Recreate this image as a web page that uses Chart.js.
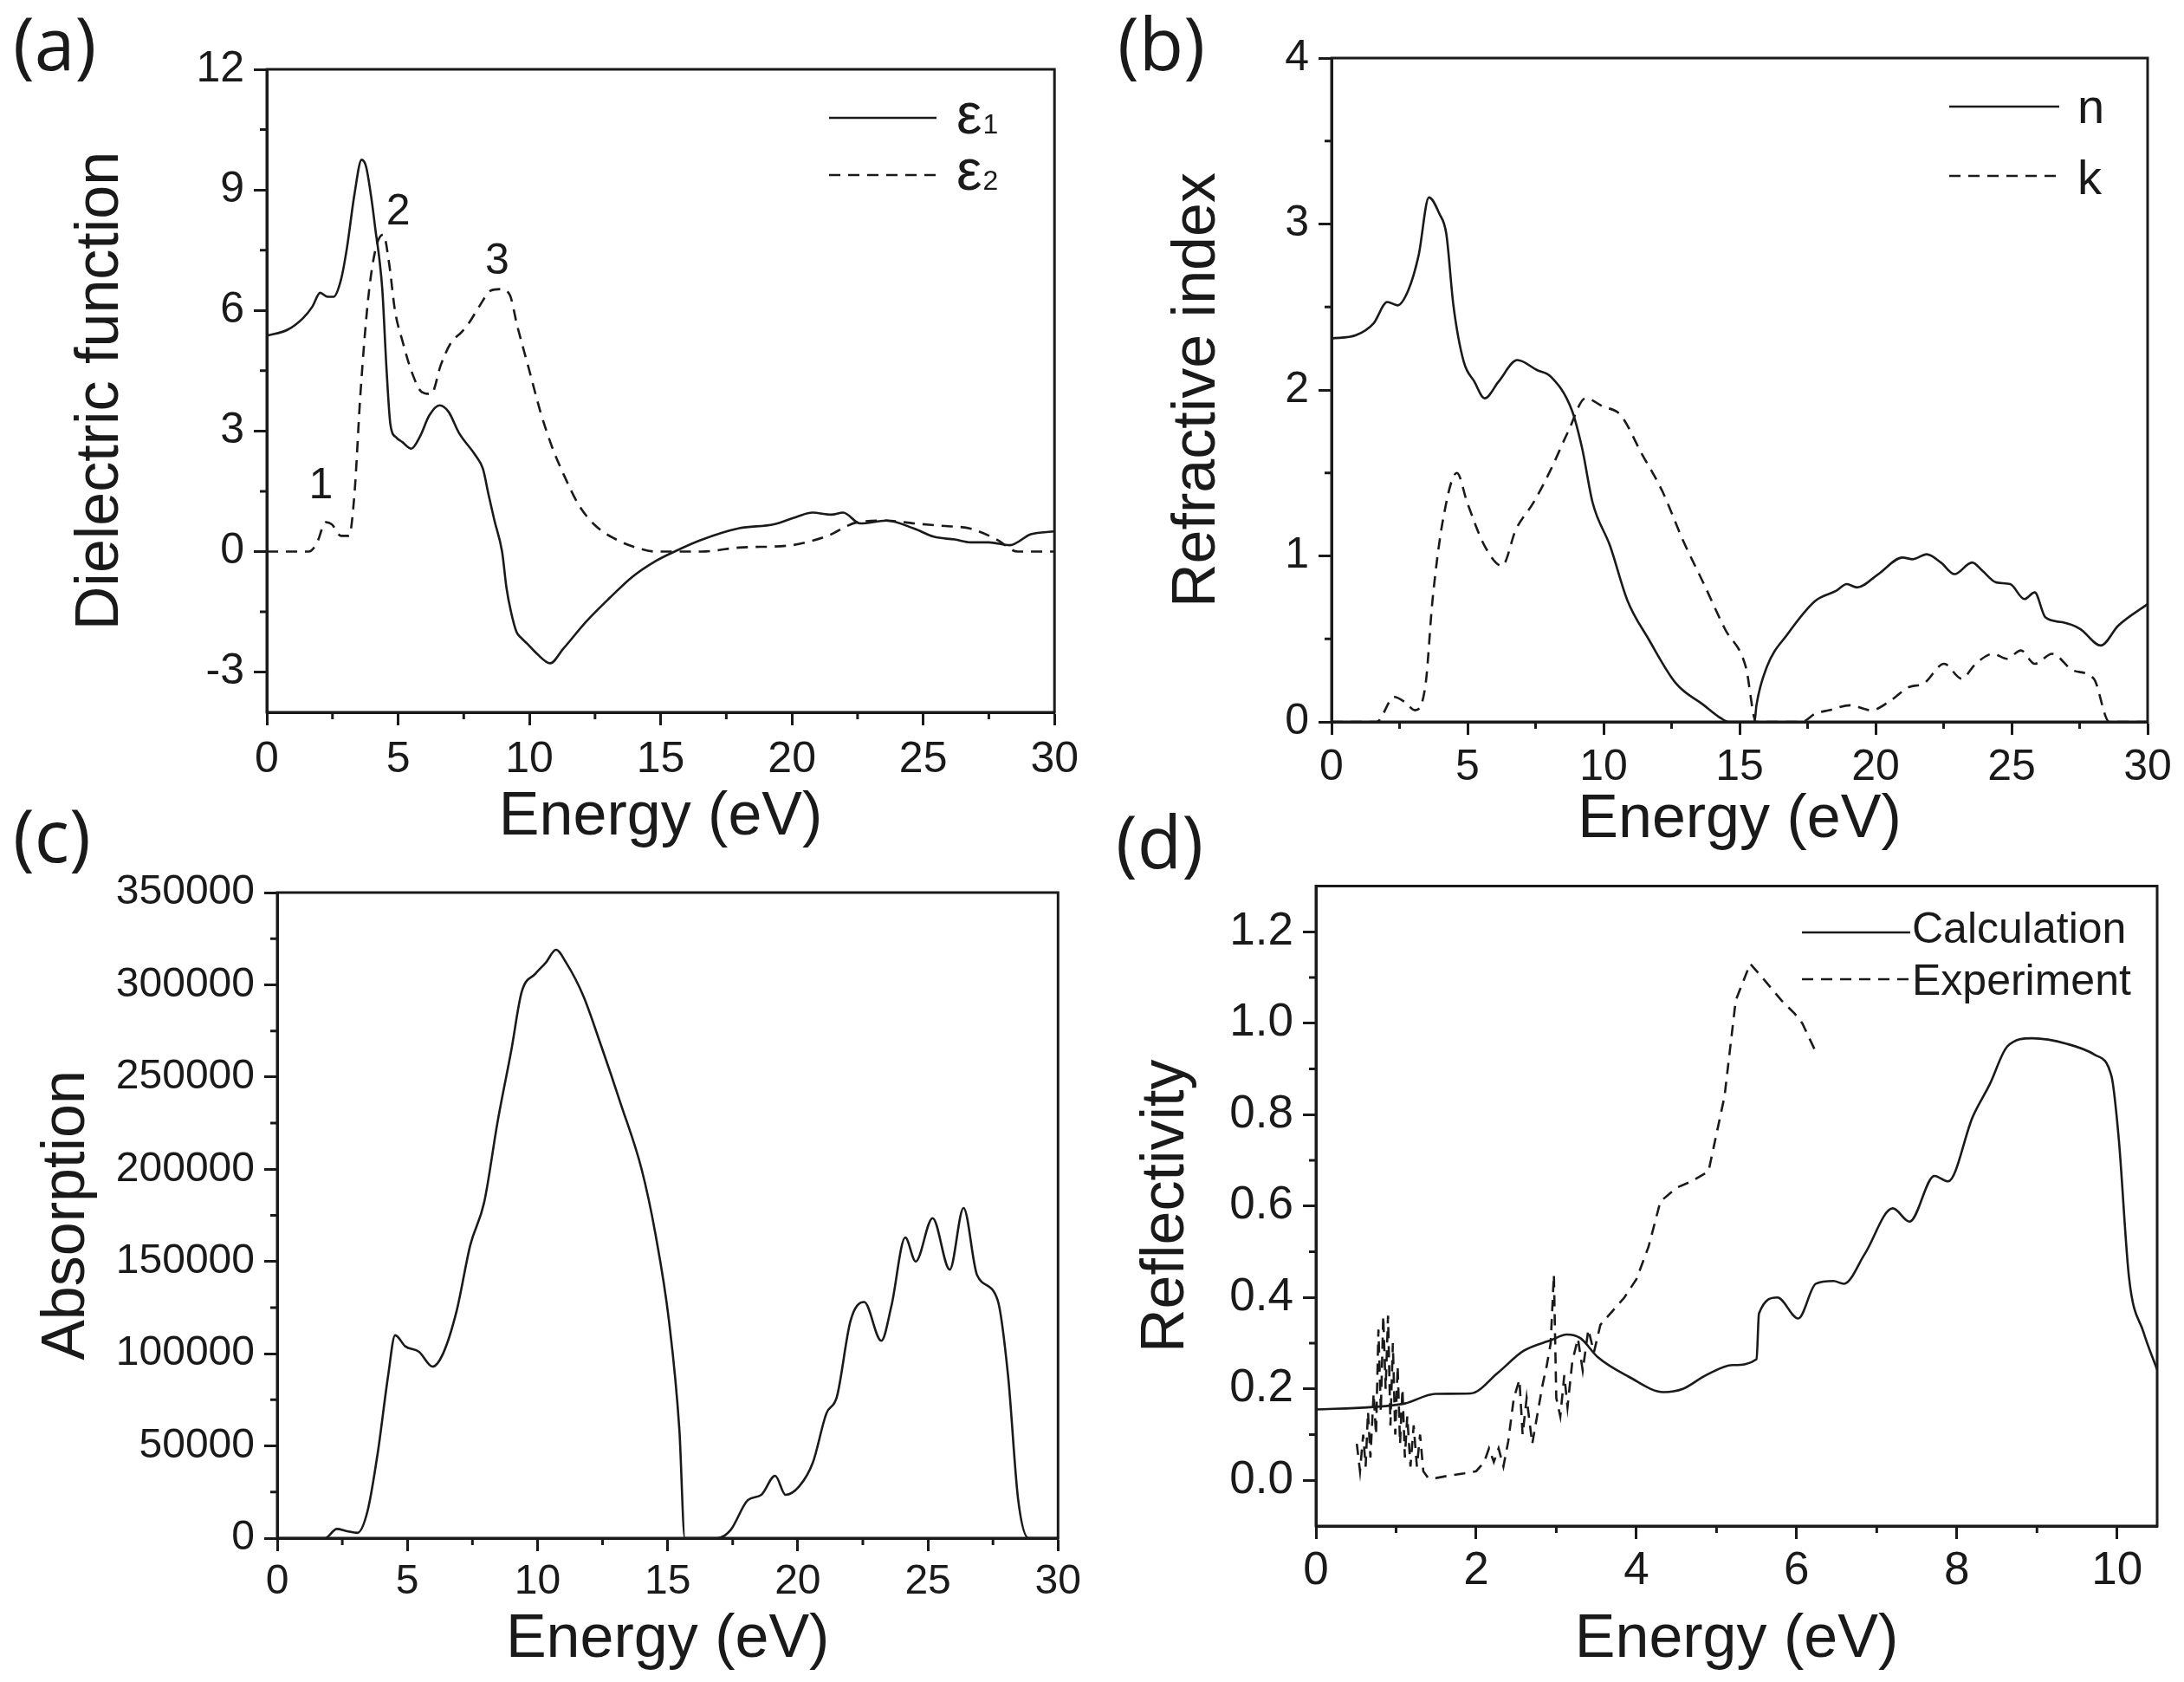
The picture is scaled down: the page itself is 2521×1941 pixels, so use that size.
<!DOCTYPE html>
<html>
<head>
<meta charset="utf-8">
<script src="https://cdn.jsdelivr.net/npm/chart.js@4.4.1/dist/chart.umd.min.js"></script>
<style>
html,body{margin:0;padding:0;background:#ffffff;}
#wrap{position:relative;width:2521px;height:1941px;overflow:hidden;background:#ffffff;}
#wrap canvas{position:absolute;}
.lab{position:absolute;font-family:"Open Sans";font-size:84px;line-height:1;color:#1a1a1a;white-space:nowrap;}
</style>
</head>
<body>
<div id="wrap">
  <canvas id="ca"></canvas>
  <canvas id="cb"></canvas>
  <canvas id="cc"></canvas>
  <canvas id="cd"></canvas>
  <div class="lab" style="left:15px;top:7px">(a)</div>
  <div class="lab" style="left:1290px;top:7px">(b)</div>
  <div class="lab" style="left:15px;top:921px">(c)</div>
  <div class="lab" style="left:1288px;top:928px">(d)</div>
</div>
<script>
// ---------- DATA ----------
// (a) dielectric function
const ENERGY_EPS1 = [0, 0.79, 1.38, 1.74, 2.03, 2.32, 2.54, 2.83, 3.05, 3.34, 3.61, 3.78, 4.0, 4.15, 4.29, 4.4, 4.56, 4.71, 4.93, 5.17, 5.5, 5.83, 6.19, 6.58, 6.92, 7.33, 7.93, 8.23, 8.45, 8.67, 8.96, 9.13, 9.3, 9.51, 9.69, 9.93, 10.3, 10.79, 11.29, 12.17, 13.05, 13.92, 14.8, 15.53, 16.55, 18.0, 19.32, 20.2, 20.78, 21.5, 21.95, 22.6, 23.6, 24.66, 25.4, 26.2, 26.8, 27.5, 28.3, 29.1, 30];
const EPS1 = [5.37, 5.52, 5.81, 6.1, 6.44, 6.34, 6.34, 6.78, 7.55, 8.9, 9.75, 9.58, 8.71, 7.94, 7.26, 6.51, 4.53, 3.15, 2.84, 2.72, 2.56, 2.86, 3.39, 3.64, 3.48, 2.94, 2.41, 2.06, 1.4, 0.77, 0, -0.91, -1.5, -2.0, -2.15, -2.3, -2.55, -2.78, -2.42, -1.74, -1.16, -0.63, -0.24, 0, 0.29, 0.58, 0.68, 0.87, 0.97, 0.92, 0.97, 0.7, 0.77, 0.57, 0.37, 0.3, 0.23, 0.23, 0.16, 0.43, 0.5];
const ENERGY_EPS2 = [0, 1.6, 1.89, 2.25, 2.47, 2.83, 3.13, 3.34, 3.56, 3.86, 4.15, 4.44, 4.66, 4.88, 5.17, 5.53, 5.9, 6.26, 6.63, 7.0, 7.43, 7.72, 8.09, 8.52, 8.89, 9.25, 9.54, 9.98, 10.42, 10.86, 11.29, 11.88, 12.46, 13.19, 14.07, 14.8, 16.55, 18.0, 19.9, 20.6, 21.36, 22.5, 23.6, 24.66, 25.7, 26.8, 27.8, 28.6, 30];
const EPS2 = [0, 0, 0.19, 0.73, 0.68, 0.39, 0.39, 1.45, 3.87, 6.29, 7.55, 7.89, 7.16, 6.0, 5.23, 4.45, 3.97, 3.92, 4.65, 5.18, 5.47, 5.71, 6.1, 6.49, 6.53, 6.39, 5.61, 4.55, 3.48, 2.61, 1.94, 1.16, 0.68, 0.34, 0.1, 0, 0, 0.1, 0.15, 0.24, 0.39, 0.73, 0.77, 0.7, 0.64, 0.57, 0.3, 0, 0];
const PEAK_LABELS = ['1', '2', '3'];
const PEAK_ENERGY = [2.06, 5.0, 8.77];
const PEAK_VALUE = [1.66, 8.49, 7.26];

// (b) refractive index
const ENERGY_N = [0, 0.9, 1.54, 2.05, 2.43, 2.82, 3.2, 3.58, 3.97, 4.22, 4.48, 4.86, 5.25, 5.63, 6.14, 6.83, 7.55, 8.06, 8.83, 9.21, 9.6, 10.24, 10.88, 11.65, 12.67, 13.69, 14.33, 14.6, 15.55, 15.62, 16.0, 16.77, 17.79, 18.56, 18.94, 19.32, 20.1, 20.99, 21.37, 21.88, 22.4, 22.9, 23.55, 23.93, 24.44, 24.95, 25.47, 25.85, 26.24, 26.87, 27.52, 28.28, 28.92, 30];
const N_VAL = [2.31, 2.33, 2.40, 2.53, 2.51, 2.60, 2.81, 3.16, 3.06, 2.94, 2.51, 2.17, 2.05, 1.95, 2.05, 2.18, 2.12, 2.08, 1.88, 1.65, 1.32, 1.06, 0.73, 0.50, 0.23, 0.10, 0.02, 0, 0, 0.1, 0.33, 0.53, 0.73, 0.79, 0.83, 0.81, 0.89, 0.99, 0.98, 1.01, 0.96, 0.89, 0.96, 0.91, 0.84, 0.83, 0.74, 0.78, 0.63, 0.60, 0.56, 0.46, 0.58, 0.71];
const ENERGY_K = [0, 1.66, 2.3, 2.69, 3.07, 3.46, 3.71, 4.1, 4.61, 4.99, 5.63, 6.27, 6.78, 7.42, 8.06, 8.7, 9.34, 9.98, 10.62, 11.39, 12.16, 12.93, 13.69, 14.46, 15.23, 15.61, 17.28, 17.79, 18.3, 19.07, 19.84, 20.48, 21.24, 21.76, 22.52, 23.16, 23.68, 24.32, 24.83, 25.34, 25.85, 26.49, 27.26, 28.02, 28.59, 30];
const K_VAL = [0, 0, 0.15, 0.12, 0.07, 0.23, 0.73, 1.22, 1.50, 1.32, 1.06, 0.94, 1.16, 1.32, 1.52, 1.75, 1.95, 1.90, 1.85, 1.62, 1.39, 1.09, 0.83, 0.56, 0.33, 0, 0, 0.05, 0.07, 0.10, 0.07, 0.12, 0.21, 0.23, 0.35, 0.26, 0.35, 0.41, 0.38, 0.43, 0.35, 0.41, 0.31, 0.26, 0, 0];

// (c) absorption
const ENERGY_ABS = [0, 1.84, 2.29, 2.68, 3.08, 3.47, 3.87, 4.26, 4.53, 4.92, 5.45, 5.97, 6.37, 6.89, 7.42, 7.95, 8.47, 9.0, 9.39, 9.92, 10.32, 10.71, 11.1, 11.76, 12.42, 13.21, 14.0, 14.53, 15.05, 15.45, 15.66, 16.9, 17.42, 18.08, 18.6, 19.13, 19.53, 20.05, 20.58, 21.1, 21.5, 22.03, 22.55, 23.21, 23.6, 24.13, 24.53, 25.18, 25.84, 26.37, 26.89, 27.68, 28.08, 28.47, 28.87, 30];
const ABSORPTION = [0, 0, 5000, 3800, 2900, 14700, 47000, 88000, 110000, 104000, 101000, 93000, 100000, 123000, 159000, 182000, 226000, 265000, 296000, 306000, 312000, 319000, 312000, 294000, 268000, 235000, 200000, 165000, 118000, 59000, 0, 0, 4400, 20600, 23500, 33800, 23500, 28000, 41000, 67600, 76500, 118000, 128000, 107000, 126000, 163000, 150000, 173500, 145600, 179000, 142600, 129000, 88000, 20600, 0, 0];

// (d) reflectivity
const ENERGY_CALC = [0, 0.68, 1.11, 1.49, 1.93, 2.27, 2.59, 2.94, 3.13, 3.3, 3.52, 3.9, 4.34, 4.58, 4.87, 5.2, 5.5, 5.53, 5.76, 6.02, 6.24, 6.46, 6.59, 6.85, 7.2, 7.41, 7.72, 7.89, 8.2, 8.41, 8.63, 8.94, 9.37, 9.72, 9.93, 10.02, 10.15, 10.33, 10.5];
const REFL_CALC = [0.155, 0.16, 0.168, 0.189, 0.19, 0.235, 0.283, 0.307, 0.319, 0.311, 0.269, 0.227, 0.193, 0.2, 0.23, 0.252, 0.265, 0.365, 0.40, 0.354, 0.43, 0.436, 0.43, 0.495, 0.595, 0.566, 0.666, 0.654, 0.796, 0.866, 0.949, 0.967, 0.955, 0.931, 0.884, 0.749, 0.442, 0.324, 0.242];
const ENERGY_EXP = [0.51, 0.55, 0.59, 0.62, 0.65, 0.68, 0.72, 0.75, 0.78, 0.81, 0.84, 0.87, 0.90, 0.93, 0.96, 0.99, 1.02, 1.05, 1.08, 1.11, 1.14, 1.18, 1.22, 1.26, 1.30, 1.34, 1.40, 1.5, 1.65, 1.85, 2.0, 2.1, 2.16, 2.22, 2.28, 2.34, 2.4, 2.47, 2.54, 2.58, 2.63, 2.7, 2.76, 2.83, 2.88, 2.93, 2.97, 3.0, 3.05, 3.1, 3.14, 3.2, 3.27, 3.33, 3.4, 3.47, 3.55, 3.7, 3.85, 4.0, 4.15, 4.3, 4.5, 4.7, 4.9, 5.1, 5.24, 5.42, 5.59, 5.81, 5.98, 6.07, 6.24];
const REFL_EXP = [0.08, 0.02, 0.10, 0.03, 0.15, 0.05, 0.19, 0.10, 0.33, 0.15, 0.36, 0.20, 0.36, 0.12, 0.30, 0.10, 0.25, 0.08, 0.20, 0.05, 0.14, 0.03, 0.12, 0.03, 0.10, 0.02, 0.005, 0.005, 0.01, 0.015, 0.02, 0.04, 0.07, 0.04, 0.07, 0.03, 0.085, 0.18, 0.22, 0.10, 0.18, 0.08, 0.14, 0.21, 0.25, 0.30, 0.45, 0.18, 0.14, 0.23, 0.16, 0.26, 0.31, 0.24, 0.33, 0.28, 0.34, 0.37, 0.40, 0.44, 0.51, 0.61, 0.64, 0.655, 0.676, 0.84, 1.05, 1.13, 1.096, 1.05, 1.02, 1.0, 0.937];

// ticks
const X_TICKS_30 = [0, 5, 10, 15, 20, 25, 30];
const X_MINOR_30 = [2.5, 7.5, 12.5, 17.5, 22.5, 27.5];
const Y_TICKS_A = [-3, 0, 3, 6, 9, 12];
const Y_MINOR_A = [-1.5, 1.5, 4.5, 7.5, 10.5];
const Y_TICKS_B = [0, 1, 2, 3, 4];
const Y_MINOR_B = [0.5, 1.5, 2.5, 3.5];
const Y_TICKS_C = [0, 50000, 100000, 150000, 200000, 250000, 300000, 350000];
const Y_MINOR_C = [25000, 75000, 125000, 175000, 225000, 275000, 325000];
const X_TICKS_D = [0, 2, 4, 6, 8, 10];
const X_MINOR_D = [1, 3, 5, 7, 9];
const Y_TICKS_D = [0, 0.2, 0.4, 0.6, 0.8, 1.0, 1.2];
const Y_MINOR_D = [0.1, 0.3, 0.5, 0.7, 0.9, 1.1];

// ---------- RENDERING ----------
const INK = '#1a1a1a';
const FONT = '"Liberation Sans", Arial, sans-serif';
const DASH = [13, 9];
const pts = (xs, ys) => xs.map((x, i) => ({ x: x, y: ys[i] }));

const deco = {
  id: 'deco',
  afterDraw(chart, args, o) {
    const ctx = chart.ctx, a = chart.chartArea;
    const xs = chart.scales.x, ys = chart.scales.y;
    ctx.save();
    ctx.strokeStyle = INK;
    ctx.lineWidth = 3;
    ctx.setLineDash([]);
    ctx.strokeRect(a.left, a.top, a.right - a.left, a.bottom - a.top);
    ctx.beginPath();
    (o.xMinor || []).forEach(v => { const p = xs.getPixelForValue(v); ctx.moveTo(p, a.bottom); ctx.lineTo(p, a.bottom + 8); });
    (o.yMinor || []).forEach(v => { const p = ys.getPixelForValue(v); ctx.moveTo(a.left, p); ctx.lineTo(a.left - 8, p); });
    ctx.stroke();
    // legend
    const ox = o.ox, oy = o.oy;
    (o.legend || []).forEach(e => {
      ctx.beginPath();
      ctx.lineWidth = 2.6;
      ctx.setLineDash(e.dash ? DASH : []);
      ctx.moveTo(e.x1 - ox, e.y - oy);
      ctx.lineTo(e.x2 - ox, e.y - oy);
      ctx.stroke();
      ctx.setLineDash([]);
      ctx.fillStyle = INK;
      ctx.textAlign = 'left';
      ctx.textBaseline = 'alphabetic';
      ctx.font = e.size + 'px ' + FONT;
      ctx.fillText(e.text, e.tx - ox, e.ty - oy);
      if (e.sub) {
        const w = ctx.measureText(e.text).width;
        ctx.font = e.subSize + 'px ' + FONT;
        ctx.fillText(e.sub, e.tx - ox + w + 1, e.ty - oy);
      }
    });
    // annotations from data coords
    (o.notes || []).forEach(n => {
      ctx.fillStyle = INK;
      ctx.font = '50px ' + FONT;
      ctx.textAlign = 'center';
      ctx.textBaseline = 'middle';
      ctx.fillText(n.t, xs.getPixelForValue(n.x), ys.getPixelForValue(n.y) + 2);
    });
    ctx.restore();
  }
};

function panel(cfg) {
  const c = document.getElementById(cfg.id);
  const B = cfg.box, P = cfg.plot;
  c.width = B.w; c.height = B.h;
  c.style.left = B.x + 'px'; c.style.top = B.y + 'px';
  c.style.width = B.w + 'px'; c.style.height = B.h + 'px';
  const yW = P.left - B.x;
  const xH = B.y + B.h - P.bottom;
  const tickFont = { family: FONT, size: cfg.tickSize, lineHeight: 1 };
  const titleFont = { family: FONT, size: 70, lineHeight: 1 };
  const grid = { display: true, drawOnChartArea: false, drawTicks: true, tickLength: 15, tickWidth: 3, tickColor: INK };
  const border = { display: true, color: INK, width: 3 };
  return new Chart(c, {
    type: 'scatter',
    data: {
      datasets: cfg.series.map(s => ({
        data: s.data,
        showLine: true,
        borderColor: INK,
        backgroundColor: INK,
        borderWidth: 2.6,
        borderDash: s.dash ? DASH : [],
        pointRadius: 0,
        pointHoverRadius: 0,
        fill: false,
        tension: 0,
        cubicInterpolationMode: s.smooth ? 'monotone' : 'default'
      }))
    },
    options: {
      responsive: false,
      animation: false,
      devicePixelRatio: 1,
      events: [],
      layout: { padding: { left: 0, top: P.top - B.y, right: B.x + B.w - P.right, bottom: 0 } },
      plugins: {
        legend: { display: false },
        tooltip: { enabled: false },
        deco: Object.assign({ ox: B.x, oy: B.y }, cfg.deco)
      },
      scales: {
        x: {
          type: 'linear', position: 'bottom', min: cfg.xMin, max: cfg.xMax,
          afterFit: s => { s.height = xH; },
          afterBuildTicks: s => { s.ticks = cfg.xTicks.map(v => ({ value: v })); },
          ticks: { autoSkip: false, maxRotation: 0, color: INK, font: tickFont, padding: cfg.xPad, callback: v => String(v) },
          grid: grid, border: border,
          title: { display: true, text: 'Energy (eV)', color: INK, font: titleFont, padding: { top: 0, bottom: cfg.xTitlePad } }
        },
        y: {
          type: 'linear', position: 'left', min: cfg.yMin, max: cfg.yMax,
          afterFit: s => { s.width = yW; },
          afterBuildTicks: s => { s.ticks = cfg.yTicks.map(v => ({ value: v })); },
          ticks: { autoSkip: false, color: INK, font: tickFont, padding: 11, callback: cfg.yFmt || (v => String(v)) },
          grid: grid, border: border,
          title: { display: true, text: cfg.yTitle, color: INK, font: titleFont, padding: { top: cfg.yTitlePad, bottom: 0 } }
        }
      }
    },
    plugins: [deco]
  });
}

Chart.defaults.font.family = FONT;

panel({
  id: 'ca', box: { x: 0, y: 0, w: 1260, h: 985 }, plot: { left: 308, top: 80, right: 1225, bottom: 822 },
  xMin: 0, xMax: 30, yMin: -4, yMax: 12, xTicks: X_TICKS_30, yTicks: Y_TICKS_A,
  tickSize: 50, xPad: 15, xTitlePad: 6, yTitle: 'Dielectric function', yTitlePad: 82,
  series: [
    { data: pts(ENERGY_EPS1, EPS1), dash: false, smooth: true },
    { data: pts(ENERGY_EPS2, EPS2), dash: true, smooth: true }
  ],
  deco: {
    xMinor: X_MINOR_30, yMinor: Y_MINOR_A,
    legend: [
      { x1: 957, x2: 1081, y: 136, dash: false, text: 'ε', sub: '1', size: 66, subSize: 32, tx: 1104, ty: 154 },
      { x1: 957, x2: 1081, y: 202, dash: true, text: 'ε', sub: '2', size: 66, subSize: 32, tx: 1104, ty: 219 }
    ],
    notes: PEAK_LABELS.map((t, i) => ({ t: t, x: PEAK_ENERGY[i], y: PEAK_VALUE[i] }))
  }
});

panel({
  id: 'cb', box: { x: 1260, y: 0, w: 1261, h: 985 }, plot: { left: 1537, top: 67, right: 2479, bottom: 833 },
  xMin: 0, xMax: 30, yMin: 0, yMax: 4, xTicks: X_TICKS_30, yTicks: Y_TICKS_B,
  tickSize: 50, xPad: 13, xTitlePad: 3, yTitle: 'Refractive index', yTitlePad: 88,
  series: [
    { data: pts(ENERGY_N, N_VAL), dash: false, smooth: true },
    { data: pts(ENERGY_K, K_VAL), dash: true, smooth: true }
  ],
  deco: {
    xMinor: X_MINOR_30, yMinor: Y_MINOR_B,
    legend: [
      { x1: 2250, x2: 2377, y: 123, dash: false, text: 'n', size: 56, tx: 2398, ty: 142 },
      { x1: 2250, x2: 2377, y: 203, dash: true, text: 'k', size: 56, tx: 2398, ty: 224 }
    ]
  }
});

panel({
  id: 'cc', box: { x: 0, y: 985, w: 1260, h: 956 }, plot: { left: 320, top: 1030, right: 1237, bottom: 1775 },
  xMin: 0, xMax: 30, yMin: 0, yMax: 350000, xTicks: X_TICKS_30, yTicks: Y_TICKS_C,
  tickSize: 48, xPad: 12, xTitlePad: 13, yTitle: 'Absorption', yTitlePad: 43,
  series: [
    { data: pts(ENERGY_ABS, ABSORPTION), dash: false, smooth: true }
  ],
  deco: { xMinor: X_MINOR_30, yMinor: Y_MINOR_C }
});

panel({
  id: 'cd', box: { x: 1260, y: 985, w: 1261, h: 956 }, plot: { left: 1519, top: 1018, right: 2490, bottom: 1761 },
  xMin: 0, xMax: 10.5, yMin: -0.1, yMax: 1.3, xTicks: X_TICKS_D, yTicks: Y_TICKS_D,
  tickSize: 53, xPad: 11, xTitlePad: 13, yTitle: 'Reflectivity', yTitlePad: 52,
  yFmt: v => v.toFixed(1),
  series: [
    { data: pts(ENERGY_CALC, REFL_CALC), dash: false, smooth: true },
    { data: pts(ENERGY_EXP, REFL_EXP), dash: true, smooth: false }
  ],
  deco: {
    xMinor: X_MINOR_D, yMinor: Y_MINOR_D,
    legend: [
      { x1: 2080, x2: 2205, y: 1076, dash: false, text: 'Calculation', size: 50, tx: 2207, ty: 1088 },
      { x1: 2080, x2: 2205, y: 1130, dash: true, text: 'Experiment', size: 50, tx: 2207, ty: 1148 }
    ]
  }
});
</script>
</body>
</html>
